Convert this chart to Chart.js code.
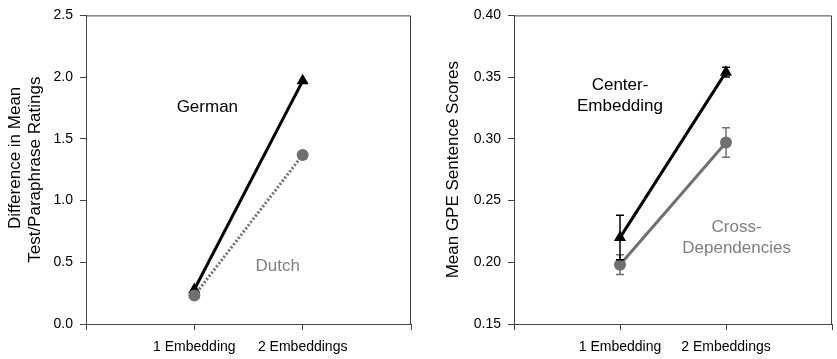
<!DOCTYPE html>
<html>
<head>
<meta charset="utf-8">
<script src="https://cdn.jsdelivr.net/npm/chart.js@4/dist/chart.umd.min.js"></script>
<style>
  html, body { margin: 0; padding: 0; background: #fff; overflow: hidden; }
  #wrap { position: relative; width: 837px; height: 359px; }
  .panel { position: absolute; top: 0; height: 359px; }
  #leftPanel { left: 0; width: 420px; }
  #rightPanel { left: 420px; width: 421px; }
</style>
</head>
<body>
<div id="wrap">
  <div class="panel" id="leftPanel"><canvas id="leftChart"></canvas></div>
  <div class="panel" id="rightPanel"><canvas id="rightChart"></canvas></div>
</div>
<script>
// Data
const categories = ['1 Embedding', '2 Embeddings'];
const categoryPos = [1, 2];

// Left panel: difference in mean test/paraphrase ratings
const germanValues = [0.28, 1.97];
const dutchValues = [0.23, 1.37];

// Right panel: mean GPE sentence scores (with error bars)
const centerValues = [0.220, 0.354];
const centerErrors = [0.018, 0.004];
const crossValues = [0.198, 0.297];
const crossErrors = [0.008, 0.012];

const COLORS = {
    black: '#000000',
    gray: '#707070',
    grayText: '#7f7f7f',
    axis: '#444444',
    text: '#000000'
};

const FONT = "'Liberation Sans', Arial, Helvetica, sans-serif";
Chart.defaults.font.family = FONT;
Chart.defaults.color = COLORS.text;

const toPoints = (vals) => vals.map((v, i) => ({ x: categoryPos[i], y: v }));

// Box around the plot area (top and right sides)
const framePlugin = {
    id: 'frame',
    beforeDatasetsDraw(chart) {
        const { ctx, chartArea: a } = chart;
        ctx.save();
        ctx.strokeStyle = COLORS.axis;
        ctx.lineWidth = 1;
        ctx.beginPath();
        ctx.moveTo(a.left, a.top + 0.5);
        ctx.lineTo(a.right - 0.5, a.top + 0.5);
        ctx.lineTo(a.right - 0.5, a.bottom);
        ctx.stroke();
        ctx.restore();
    }
};

// Error bars, drawn through the chart scales
const errorBarPlugin = {
    id: 'errorBars',
    afterDatasetsDraw(chart) {
        const { ctx, scales: { x, y } } = chart;
        chart.data.datasets.forEach((ds) => {
            if (!ds.errors) return;
            ctx.save();
            ctx.strokeStyle = ds.borderColor;
            ctx.lineWidth = 1.5;
            ds.data.forEach((p, i) => {
                const e = ds.errors[i];
                const px = x.getPixelForValue(p.x);
                const yTop = y.getPixelForValue(p.y + e);
                const yBot = y.getPixelForValue(p.y - e);
                ctx.beginPath();
                ctx.moveTo(px, yTop); ctx.lineTo(px, yBot);
                ctx.moveTo(px - 4, yTop); ctx.lineTo(px + 4, yTop);
                ctx.moveTo(px - 4, yBot); ctx.lineTo(px + 4, yBot);
                ctx.stroke();
            });
            ctx.restore();
        });
    }
};

// Series labels placed in data coordinates
const seriesLabelPlugin = {
    id: 'seriesLabels',
    afterDraw(chart, args, opts) {
        const { ctx, scales: { x, y } } = chart;
        (opts.items || []).forEach((it) => {
            const px = x.getPixelForValue(it.x);
            const py = y.getPixelForValue(it.y);
            const lh = 21;
            ctx.save();
            ctx.font = '17px ' + FONT;
            ctx.fillStyle = it.color;
            ctx.textAlign = 'center';
            ctx.textBaseline = 'middle';
            it.lines.forEach((line, i) => {
                ctx.fillText(line, px, py + (i - (it.lines.length - 1) / 2) * lh);
            });
            ctx.restore();
        });
    }
};

function xScale() {
    return {
        type: 'linear',
        min: 0,
        max: 3,
        afterFit: (s) => { s.height = 35; },
        afterBuildTicks: (s) => { s.ticks = [0, 1, 2, 3].map(v => ({ value: v })); },
        grid: { drawOnChartArea: false, drawTicks: true, tickLength: 6, color: COLORS.axis },
        border: { color: COLORS.axis, width: 1 },
        ticks: {
            autoSkip: false,
            maxRotation: 0,
            padding: 9,
            font: { size: 14 },
            color: COLORS.text,
            callback: (v) => (v >= 1 && v <= 2 ? categories[v - 1] : '')
        }
    };
}

function yScale(min, max, step, digits, width, titleText, titlePad) {
    return {
        min: min,
        max: max,
        afterFit: (s) => { s.width = width; },
        grid: { drawOnChartArea: false, drawTicks: true, tickLength: 6, color: COLORS.axis },
        border: { color: COLORS.axis, width: 1 },
        ticks: {
            stepSize: step,
            padding: 7,
            font: { size: 14 },
            color: COLORS.text,
            callback: (v) => v.toFixed(digits)
        },
        title: {
            display: true,
            text: titleText,
            font: { size: 17 },
            color: COLORS.text,
            padding: { top: titlePad, bottom: 0 }
        }
    };
}

const baseOptions = {
    responsive: true,
    maintainAspectRatio: false,
    animation: false,
    events: [],
    plugins: { legend: { display: false }, tooltip: { enabled: false } }
};

function initCharts() {
    // Left chart
    new Chart(document.getElementById('leftChart').getContext('2d'), {
        type: 'line',
        data: {
            datasets: [
                {
                    label: 'Dutch',
                    data: toPoints(dutchValues),
                    borderColor: COLORS.gray,
                    backgroundColor: COLORS.gray,
                    borderWidth: 3,
                    borderDash: [2, 2],
                    pointStyle: 'circle',
                    pointRadius: 6,
                    pointBorderWidth: 0
                },
                {
                    label: 'German',
                    data: toPoints(germanValues),
                    borderColor: COLORS.black,
                    backgroundColor: COLORS.black,
                    borderWidth: 3,
                    pointStyle: 'triangle',
                    pointRadius: 7,
                    pointBorderWidth: 0
                }
            ]
        },
        options: {
            ...baseOptions,
            layout: { padding: { top: 12, right: 7, bottom: 0, left: 0 } },
            scales: {
                x: xScale(),
                // leading spaces keep the first title line end-aligned with the second
                y: yScale(0, 2.5, 0.5, 1, 86,
                    ['\u00a0\u00a0\u00a0\u00a0\u00a0Difference in Mean', 'Test/Paraphrase Ratings'], 5)
            },
            plugins: {
                ...baseOptions.plugins,
                seriesLabels: {
                    items: [
                        { x: 1.12, y: 1.755, lines: ['German'], color: COLORS.text },
                        { x: 1.77, y: 0.465, lines: ['Dutch'], color: COLORS.grayText }
                    ]
                }
            }
        },
        plugins: [framePlugin, seriesLabelPlugin]
    });

    // Right chart
    new Chart(document.getElementById('rightChart').getContext('2d'), {
        type: 'line',
        data: {
            datasets: [
                {
                    label: 'Cross-Dependencies',
                    data: toPoints(crossValues),
                    errors: crossErrors,
                    borderColor: COLORS.gray,
                    backgroundColor: COLORS.gray,
                    borderWidth: 3,
                    pointStyle: 'circle',
                    pointRadius: 6,
                    pointBorderWidth: 0
                },
                {
                    label: 'Center-Embedding',
                    data: toPoints(centerValues),
                    errors: centerErrors,
                    borderColor: COLORS.black,
                    backgroundColor: COLORS.black,
                    borderWidth: 3,
                    pointStyle: 'triangle',
                    pointRadius: 7,
                    pointBorderWidth: 0
                }
            ]
        },
        options: {
            ...baseOptions,
            layout: { padding: { top: 12, right: 0, bottom: 0, left: 0 } },
            scales: {
                x: xScale(),
                y: yScale(0.15, 0.40, 0.05, 2, 94, 'Mean GPE Sentence Scores', 23)
            },
            plugins: {
                ...baseOptions.plugins,
                seriesLabels: {
                    items: [
                        { x: 1.0, y: 0.335, lines: ['Center-', 'Embedding'], color: COLORS.text },
                        { x: 2.1, y: 0.2195, lines: ['Cross-', 'Dependencies'], color: COLORS.grayText }
                    ]
                }
            }
        },
        plugins: [framePlugin, errorBarPlugin, seriesLabelPlugin]
    });
}

document.addEventListener('DOMContentLoaded', initCharts);
</script>
</body>
</html>
